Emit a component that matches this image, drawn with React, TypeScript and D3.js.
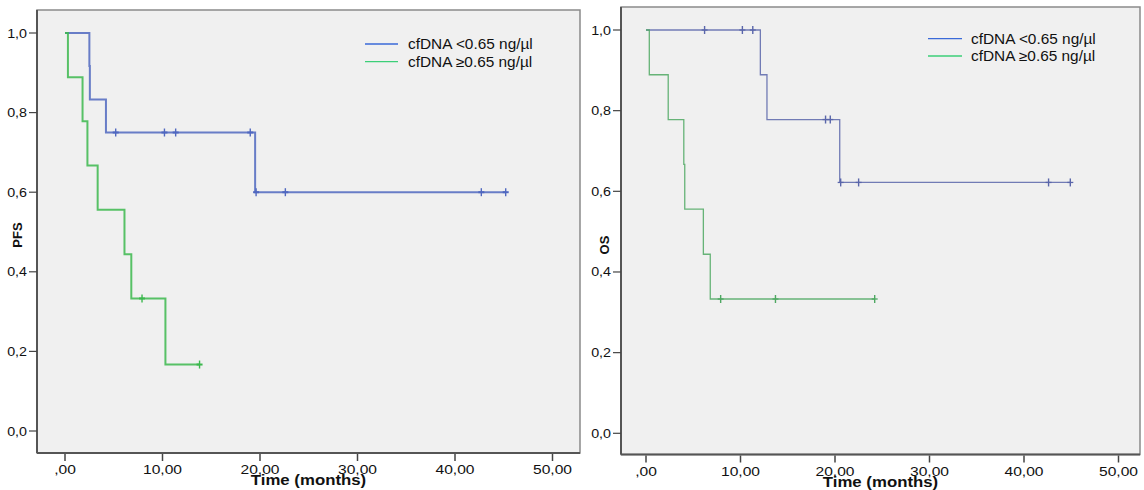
import React from "react";
import * as d3 from "d3";

// ---------- data ----------
const yTicks = [0, 0.2, 0.4, 0.6, 0.8, 1.0];
const yTickLabels = ["0,0", "0,2", "0,4", "0,6", "0,8", "1,0"];
const xTicks = [0, 10, 20, 30, 40, 50];
const xTickLabels = [",00", "10,00", "20,00", "30,00", "40,00", "50,00"];
const legendLabels = ["cfDNA <0.65 ng/µl", "cfDNA ≥0.65 ng/µl"];

// PFS, cfDNA < 0.65
const pfsLowTime = [0, 2.5, 2.55, 4.2, 19.5];
const pfsLowSurv = [1, 0.917, 0.833, 0.75, 0.6];
const pfsLowEnd = 45.2;
const pfsLowCensor = [5.2, 10.2, 11.35, 19.0, 19.6, 22.6, 42.7, 45.2];
// PFS, cfDNA >= 0.65
const pfsHighTime = [0, 0.3, 1.8, 2.3, 3.35, 6.1, 6.8, 10.3];
const pfsHighSurv = [1, 0.889, 0.778, 0.667, 0.556, 0.444, 0.333, 0.167];
const pfsHighEnd = 13.8;
const pfsHighCensor = [7.9, 13.8];

// OS, cfDNA < 0.65
const osLowTime = [0, 12.1, 12.8, 20.5];
const osLowSurv = [1, 0.889, 0.778, 0.622];
const osLowEnd = 44.9;
const osLowCensor = [6.2, 10.2, 11.3, 19.0, 19.5, 20.6, 22.5, 42.6, 44.9];
// OS, cfDNA >= 0.65
const osHighTime = [0, 0.35, 2.35, 4.0, 4.1, 6.07, 6.8];
const osHighSurv = [1, 0.889, 0.778, 0.667, 0.556, 0.444, 0.333];
const osHighEnd = 24.2;
const osHighCensor = [7.9, 13.7, 24.2];

type Series = { time: number[]; surv: number[]; end: number; censor: number[]; color: string };

const FONT = "'Liberation Sans', Arial, sans-serif";

function survAt(s: Series, t: number) {
  let v = s.surv[0];
  for (let i = 0; i < s.time.length; i++) if (s.time[i] <= t) v = s.surv[i];
  return v;
}

function SText({ x, y, sx = 1.2, anchor = "start", size = 13, weight = "normal", children }: any) {
  return (
    <text
      transform={`translate(${x},${y}) scale(${sx},1)`}
      textAnchor={anchor}
      fontFamily={FONT}
      fontSize={size}
      fontWeight={weight}
      fill="#111"
    >
      {children}
    </text>
  );
}

function Panel({ frame, xRange, yRange, series, yLabel, yLabelPos, legend, lineW }: any) {
  const x = d3.scaleLinear().domain([0, 50]).range(xRange);
  const y = d3.scaleLinear().domain([0, 1]).range(yRange);
  const line = d3
    .line<[number, number]>()
    .x((d) => x(d[0]))
    .y((d) => y(d[1]))
    .curve(d3.curveStepAfter);
  const [fx0, fy0, fx1, fy1] = frame;
  return (
    <g>
      <rect x={fx0} y={fy0} width={fx1 - fx0} height={fy1 - fy0} fill="#f0f0f0" stroke="#8a8a8a" strokeWidth={1.5} />
      <line x1={fx0} x2={fx0} y1={fy0} y2={fy1} stroke="#555" strokeWidth={2} />
      <line x1={fx0} x2={fx1} y1={fy1} y2={fy1} stroke="#555" strokeWidth={2} />
      {yTicks.map((t, i) => (
        <g key={"y" + i}>
          <line x1={fx0 - 8} x2={fx0} y1={y(t)} y2={y(t)} stroke="#444" strokeWidth={1.2} />
          <SText x={fx0 - 10} y={y(t) + 4.5} anchor="end" sx={1.1}>
            {yTickLabels[i]}
          </SText>
        </g>
      ))}
      {xTicks.map((t, i) => (
        <g key={"x" + i}>
          <line x1={x(t)} x2={x(t)} y1={fy1 + 1} y2={fy1 + 8} stroke="#444" strokeWidth={1.5} />
          <SText x={x(t)} y={fy1 + 21} anchor="middle" sx={1.2}>
            {xTickLabels[i]}
          </SText>
        </g>
      ))}
      <SText x={(fx0 + fx1) / 2} y={fy1 + 32} anchor="middle" size={14} weight="bold" sx={1.2}>
        Time (months)
      </SText>
      <text
        transform={`translate(${yLabelPos[0]},${yLabelPos[1]}) rotate(-90)`}
        textAnchor="middle"
        fontFamily={FONT}
        fontSize={13}
        fontWeight="bold"
        fill="#111"
      >
        {yLabel}
      </text>
      {series.map((s: Series, k: number) => {
        const pts: [number, number][] = s.time.map((t, i) => [t, s.surv[i]] as [number, number]);
        pts.push([s.end, s.surv[s.surv.length - 1]]);
        return (
          <g key={"s" + k}>
            <path d={line(pts) || ""} fill="none" stroke={s.color} strokeWidth={lineW} strokeOpacity={0.85} />
            {s.censor.map((c, j) => (
              <g key={j}>
                <line x1={x(c)} x2={x(c)} y1={y(survAt(s, c)) - 4} y2={y(survAt(s, c)) + 4} stroke={s.color} strokeWidth={1.4} />
                <line x1={x(c) - 3} x2={x(c) + 3} y1={y(survAt(s, c))} y2={y(survAt(s, c))} stroke={s.color} strokeWidth={lineW} />
              </g>
            ))}
          </g>
        );
      })}
      {legendLabels.map((lab, i) => (
        <g key={"l" + i}>
          <line
            x1={legend.x}
            x2={legend.x + legend.len}
            y1={legend.y + i * legend.dy}
            y2={legend.y + i * legend.dy}
            stroke={legend.colors[i]}
            strokeWidth={1.3}
          />
          <SText x={legend.tx} y={legend.y + i * legend.dy + 5} size={14} sx={1.1}>
            {lab}
          </SText>
        </g>
      ))}
    </g>
  );
}

export default function App() {
  const leftSeries: Series[] = [
    { time: pfsLowTime, surv: pfsLowSurv, end: pfsLowEnd, censor: pfsLowCensor, color: "#5068c0" },
    { time: pfsHighTime, surv: pfsHighSurv, end: pfsHighEnd, censor: pfsHighCensor, color: "#3cb84e" },
  ];
  const rightSeries: Series[] = [
    { time: osLowTime, surv: osLowSurv, end: osLowEnd, censor: osLowCensor, color: "#5a66aa" },
    { time: osHighTime, surv: osHighSurv, end: osHighEnd, censor: osHighCensor, color: "#4ea862" },
  ];
  const legendColors = ["#3a6ad8", "#3ccf78"];
  return (
    <svg width={1144} height={490} style={{ position: "absolute", left: 0, top: 0, background: "#fff" }}>
      <Panel
        frame={[37, 10, 580, 453]}
        xRange={[65, 552.5]}
        yRange={[431, 33]}
        series={leftSeries}
        yLabel="PFS"
        yLabelPos={[22, 235]}
        legend={{ x: 365, len: 33, y: 44, dy: 17.7, tx: 408, colors: legendColors }}
        lineW={2}
      />
      <Panel
        frame={[621, 7, 1140, 454.5]}
        xRange={[646, 1118.5]}
        yRange={[433.3, 30]}
        series={rightSeries}
        yLabel="OS"
        yLabelPos={[609, 245]}
        legend={{ x: 928, len: 34, y: 38.7, dy: 17.3, tx: 971, colors: legendColors }}
        lineW={1.3}
      />
    </svg>
  );
}
